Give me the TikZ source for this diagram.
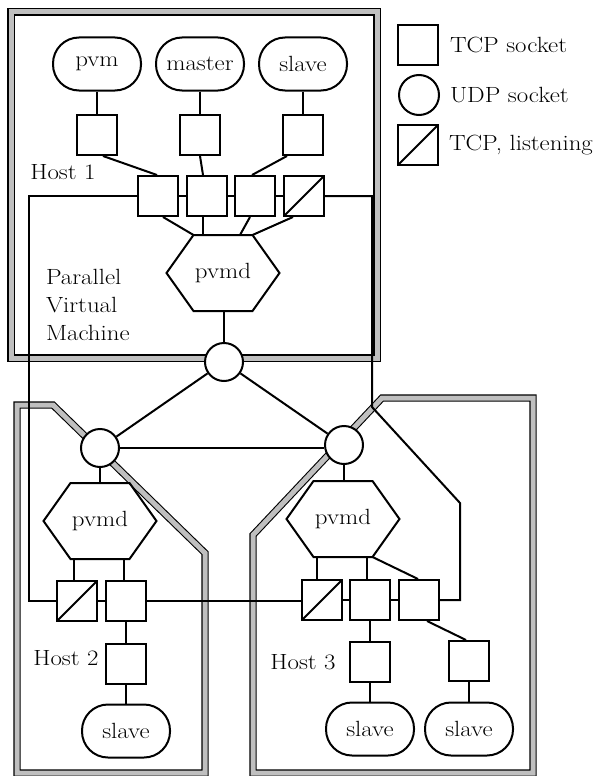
\documentclass[tikz,border=0pt]{standalone}
\usepackage{fontspec}
\setmainfont{Latin Modern Roman}[FakeStretch=1.13]
\usetikzlibrary{backgrounds,calc}
\newcommand\hexdraw[1]{\draw[shp] ([xshift=27pt]#1.north west) -- ([xshift=-27pt]#1.north east) -- (#1.east) -- ([xshift=-27pt]#1.south east) -- ([xshift=27pt]#1.south west) -- (#1.west) -- cycle;}
\begin{document}
\begin{tikzpicture}[x=1pt,y=-1pt,line width=2pt,
  every node/.style={font=\fontsize{22}{28}\selectfont},
  shp/.style={draw,line width=2pt},
  sock/.style={draw,line width=2pt,fill=white,minimum size=40pt,inner sep=0pt},
  lsock/.style={sock,path picture={\draw[line width=2pt] (path picture bounding box.south west) -- (path picture bounding box.north east);}},
  udp/.style={circle,draw,line width=2pt,fill=white,minimum size=38pt,inner sep=0pt},
  proc/.style={draw,line width=2pt,fill=white,rounded corners=26pt,minimum width=88pt,minimum height=53pt,inner sep=0pt},
  hex/.style={minimum width=111pt,minimum height=74pt,inner sep=0pt},
  hostb/.style={draw,line width=1.1pt,double=gray!50,double distance=5pt},
  lbl/.style={inner sep=0pt}]
\useasboundingbox (0,0) rectangle (596,776);

% legend
\node[sock] (lg1) at (418,45) {};
\node[lbl,anchor=west] (lgt1) at (449,45) {TCP socket};
\node[udp,minimum size=40pt] (lg2) at (419,95) {};
\node[lbl,anchor=west] (lgt2) at (449,95) {UDP socket};
\node[lsock] (lg3) at (418,145) {};
\node[lbl,anchor=west] (lgt3) at (448,145) {TCP, listening};

% Host 1
\node[proc] (pvm) at (97,64) {pvm};
\node[proc] (master) at (200,64) {master};
\node[proc] (slaveA) at (303,64) {slave};
\node[sock] (s1) at (97,135) {};
\node[sock] (s2) at (200,135) {};
\node[sock] (s3) at (303,135) {};
\node[lbl] (h1) at (63,172) {Host 1};
\node[sock] (a1) at (158,196) {};
\node[sock] (b1) at (207,196) {};
\node[sock] (c1) at (255,196) {};
\node[lsock] (l1) at (304,196) {};
\node[hex] (p1) at (223,273) {pvmd};
\hexdraw{p1}
\node[lbl,anchor=west,align=left] (pvmtext) at (45,305) {Parallel\\Virtual\\Machine};
\node[udp] (u1) at (224,362) {};

% Host 2
\node[udp] (u2) at (100,448) {};
\node[hex] (p2) at (100,521) {pvmd};
\hexdraw{p2}
\node[lsock] (l2) at (77,601) {};
\node[sock] (b2) at (126,601) {};
\node[lbl] (h2) at (66,658) {Host 2};
\node[sock] (s4) at (126,664) {};
\node[proc] (slaveB) at (126,731) {slave};

% Host 3
\node[udp] (u3) at (344,445) {};
\node[hex] (p3) at (343,519) {pvmd};
\hexdraw{p3}
\node[lsock] (l3) at (322,600) {};
\node[sock] (b3) at (370,600) {};
\node[sock] (c3) at (419,600) {};
\node[lbl] (h3) at (303,662) {Host 3};
\node[sock] (s5) at (370,662) {};
\node[sock] (s6) at (469,661) {};
\node[proc] (slaveC) at (370,729) {slave};
\node[proc] (slaveD) at (469,729) {slave};

\coordinate (lx) at (29,400);
\coordinate (r2) at (372,407);
\coordinate (r1) at (460,503);

% host borders
\begin{scope}[on background layer]
\draw[hostb] (11,12) rectangle (377,358);
\draw[hostb] (17,405) -- (53,405) -- (205,553) -- (205,773) -- (17,773) -- cycle;
\draw[hostb] (253,535) -- (382,398) -- (533,398) -- (533,773) -- (253,773) -- cycle;
\end{scope}

% connectors host 1
\draw (pvm) -- (s1);
\draw (master) -- (s2);
\draw (slaveA) -- (s3);
\draw ([xshift=6pt]s1.south) -- ([xshift=-1pt]a1.north);
\draw (s2.south) -- ([xshift=-4pt]b1.north);
\draw ([xshift=-16pt]s3.south) -- ([xshift=-3pt]c1.north);
\draw (a1) -- (b1);
\draw (b1) -- (c1);
\draw (c1) -- (l1);
\draw ([xshift=5pt]a1.south) -- ([xshift=27pt]p1.north west);
\draw ([xshift=-4pt]b1.south) -- ([xshift=-4pt]b1.south |- p1.north);
\draw ([xshift=-5pt]c1.south) -- ([xshift=17pt]p1.north);
\draw ([xshift=-11pt]l1.south) -- ([xshift=-27pt]p1.north east);
\draw (p1.south -| u1) -- (u1);

% udp links
\draw (u1) -- (u2);
\draw (u1) -- (u3);
\draw (u2) -- (u2 -| u3.west);
\draw (u2) -- (u2 |- p2.north);
\draw (u3) -- (u3 |- p3.north);

% host 2
\draw ([xshift=-3pt]l2.north) -- ([xshift=-3pt]l2.north |- p2.south);
\draw ([xshift=-2pt]b2.north) -- ([xshift=-2pt]b2.north |- p2.south);
\draw (l2) -- (b2);
\draw (a1.west) -| (lx) |- (l2.west);
\draw (b2.east) -- (b2.east -| l3.west);
\draw (b2) -- (s4);
\draw (s4) -- (slaveB);

% host 3
\draw ([xshift=-5pt]l3.north) -- ([xshift=-5pt]l3.north |- p3.south);
\draw ([xshift=-3pt]b3.north) -- ([xshift=-3pt]b3.north |- p3.south);
\draw ([xshift=-27pt]p3.south east) -- ([xshift=-1pt]c3.north);
\draw (l3) -- (b3);
\draw (b3) -- (c3);
\draw (l1.east) -| (r2) -- (r1) |- (c3.east);
\draw (b3) -- (s5);
\draw (s5) -- (slaveC);
\draw ([xshift=8pt]c3.south) -- ([xshift=-3pt]s6.north);
\draw (s6) -- (slaveD);
\end{tikzpicture}
\end{document}
